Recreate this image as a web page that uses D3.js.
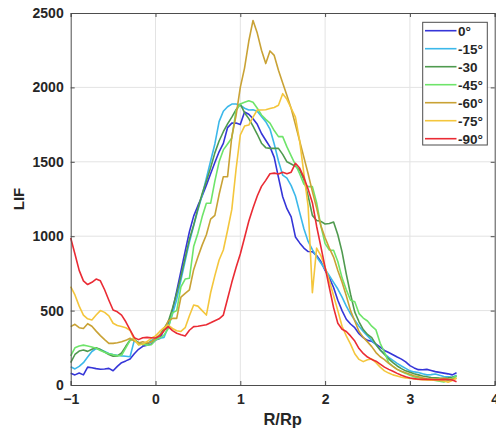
<!DOCTYPE html>
<html><head><meta charset="utf-8">
<script src="https://cdn.jsdelivr.net/npm/d3@7"></script>
<style>body{margin:0;background:#fff}svg{display:block}text{font-family:"Liberation Sans",Arial,sans-serif;font-weight:bold;fill:#262626}</style>
</head><body>
<svg id="c" width="496" height="434"></svg>
<script>
const rp = [-1.00,-0.95,-0.90,-0.85,-0.80,-0.75,-0.70,-0.65,-0.60,-0.55,-0.50,-0.45,-0.40,-0.35,-0.30,-0.25,-0.20,-0.15,-0.10,-0.05,
0.00,0.05,0.10,0.15,0.20,0.25,0.30,0.35,0.40,0.45,0.50,0.55,0.60,0.65,0.70,0.75,0.80,0.85,0.90,0.95,
1.00,1.05,1.10,1.15,1.20,1.25,1.30,1.35,1.40,1.45,1.50,1.55,1.60,1.65,1.70,1.75,1.80,1.85,1.90,1.95,
2.00,2.05,2.10,2.15,2.20,2.25,2.30,2.35,2.40,2.45,2.50,2.55,2.60,2.65,2.70,2.75,2.80,2.85,2.90,2.95,
3.00,3.05,3.10,3.15,3.20,3.25,3.30,3.35,3.40,3.45,3.50,3.55];

const deg0 = [79,68,80,68,120,116,110,106,108,112,96,125,150,162,175,210,240,260,268,275,
302,312,370,405,500,630,765,900,1030,1135,1205,1270,1343,1420,1495,1567,1624,1730,1760,1760,
1750,1835,1820,1790,1752,1690,1645,1600,1530,1395,1265,1185,1130,995,955,920,897,896,870,830,
770,720,655,570,500,442,410,385,345,318,300,294,275,255,232,218,203,188,174,155,
130,115,103,102,105,98,90,85,80,75,68,82];

const deg15 = [123,108,125,150,188,225,245,238,225,212,205,200,196,193,190,300,285,275,270,300,
314,314,320,390,475,575,705,835,960,1070,1175,1275,1390,1505,1620,1770,1840,1870,1888,1888,
1880,1860,1848,1850,1840,1805,1770,1720,1620,1505,1410,1390,1340,1270,1160,1050,965,910,862,820,
778,735,690,645,590,530,478,435,395,360,330,300,270,235,210,185,165,145,128,112,
95,88,84,75,68,70,74,65,57,55,52,66];

const deg30 = [150,205,228,235,226,240,250,238,222,205,193,195,215,260,302,307,285,270,278,290,
307,335,380,425,515,616,730,855,980,1075,1185,1285,1370,1460,1560,1640,1702,1755,1800,1850,
1888,1830,1790,1740,1685,1625,1595,1590,1590,1590,1550,1500,1485,1470,1445,1380,1270,1140,1106,1100,
1082,1085,1095,1010,895,745,610,490,425,372,340,318,272,235,205,175,150,128,110,95,
85,76,68,60,55,50,48,46,45,48,52,58];

const deg45 = [195,250,262,268,262,255,247,232,220,210,203,196,200,250,300,312,270,276,268,270,
302,315,335,380,485,500,660,712,717,930,1020,1130,1221,1221,1370,1500,1580,1620,1660,1845,
1888,1900,1910,1900,1860,1815,1785,1760,1710,1669,1669,1600,1540,1480,1420,1350,1333,1333,1225,1070,
950,907,905,830,720,640,570,560,480,450,430,395,370,280,220,150,125,105,90,78,
65,55,48,42,38,35,30,25,20,30,45,62];

const deg60 = [392,408,385,380,412,395,362,332,305,280,280,284,291,300,314,295,282,291,282,290,
314,338,365,430,448,448,590,616,640,775,860,940,1010,1115,1140,1280,1400,1400,1670,1810,
2000,2130,2310,2450,2365,2250,2160,2245,2215,2115,2030,1945,1858,1750,1640,1530,1420,1300,1190,1070,
990,920,860,770,690,600,500,430,360,320,290,258,218,190,170,145,125,105,92,82,
72,62,55,48,42,40,38,42,45,38,40,45];

const deg75 = [661,605,530,470,445,437,470,500,488,465,415,400,393,385,368,305,270,275,292,314,
330,360,385,403,380,365,360,385,465,538,530,500,470,620,735,840,907,1040,1180,1450,
1680,1740,1747,1800,1848,1848,1850,1858,1865,1880,1958,1920,1860,1800,1640,1420,1200,620,920,870,
790,700,600,500,395,330,275,210,172,157,170,175,150,120,95,80,68,60,52,48,
45,40,38,36,34,33,32,30,28,18,30,45];

const deg90 = [988,880,770,700,675,690,712,700,640,570,504,492,470,425,370,318,305,318,320,318,
316,330,365,392,365,348,338,330,368,392,395,400,405,418,432,445,470,580,690,790,
880,990,1100,1190,1270,1335,1375,1420,1424,1418,1430,1420,1430,1490,1458,1395,1315,1225,1067,930,
790,655,520,415,375,360,330,295,245,212,188,172,160,140,120,105,92,78,65,55,
47,43,39,38,38,37,35,36,38,36,34,22];

const seriesNames = ["0°","-15°","-30","-45°","-60°","-75°","-90°"];
const seriesColors = ["#3535d8","#3cb8ea","#4f9a4f","#6ee46a","#c9a235","#f4c63c","#ea2b34"];
const seriesData = [deg0,deg15,deg30,deg45,deg60,deg75,deg90];
const xTicks = [-1,0,1,2,3,4];
const yTicks = [0,500,1000,1500,2000,2500];

const svg = d3.select("#c");
const L=70.7, R=494.7, T=13, B=385;
const x = d3.scaleLinear().domain([-1,4]).range([L,R]);
const y = d3.scaleLinear().domain([0,2500]).range([B,T]);

// grid
const g = svg.append("g");
g.selectAll(".gx").data(xTicks.slice(1,-1)).join("line")
  .attr("x1",d=>x(d)).attr("x2",d=>x(d)).attr("y1",T).attr("y2",B)
  .attr("stroke","#e3e3e3").attr("stroke-width",1);
g.selectAll(".gy").data(yTicks.slice(1,-1)).join("line")
  .attr("x1",L).attr("x2",R).attr("y1",d=>y(d)).attr("y2",d=>y(d))
  .attr("stroke","#e3e3e3").attr("stroke-width",1);

// lines
const line = d3.line().x((d,i)=>x(rp[i])).y(d=>y(d));
svg.append("g").selectAll("path").data(seriesData).join("path")
  .attr("d",d=>line(d)).attr("fill","none")
  .attr("stroke",(d,i)=>seriesColors[i]).attr("stroke-width",1.6)
  .attr("stroke-linejoin","round");

// axes
const ax = svg.append("g").attr("transform",`translate(0,${B})`)
  .call(d3.axisBottom(x).tickValues(xTicks).tickSize(-4).tickPadding(9).tickFormat(d3.format("d")));
const ay = svg.append("g").attr("transform",`translate(${L},0)`)
  .call(d3.axisLeft(y).tickValues(yTicks).tickSize(-4).tickPadding(7).tickFormat(d3.format("d")));
const at = svg.append("g").attr("transform",`translate(0,${T})`)
  .call(d3.axisTop(x).tickValues(xTicks).tickSize(-4).tickFormat(""));
const ar = svg.append("g").attr("transform",`translate(${R},0)`)
  .call(d3.axisRight(y).tickValues(yTicks).tickSize(-4).tickFormat(""));
[ax,ay,at,ar].forEach(a=>{
  a.select(".domain").attr("stroke","#4d4d4d");
  a.selectAll(".tick line").attr("stroke","#4d4d4d");
  a.selectAll("text").attr("font-size",14).attr("fill","#262626");
});

svg.append("text").attr("x",(L+R)/2).attr("y",425).attr("text-anchor","middle")
  .attr("font-size",16.5).text("R/Rp");
svg.append("text").attr("transform","translate(24,199) rotate(-90)").attr("text-anchor","middle")
  .attr("font-size",15).text("LIF");

// legend
const lg = svg.append("g");
lg.append("rect").attr("x",422.7).attr("y",22.3).attr("width",64.6).attr("height",122.7)
  .attr("fill","#fff").attr("stroke","#4d4d4d").attr("stroke-width",1);
const rows = lg.selectAll(".row").data(seriesNames).join("g")
  .attr("transform",(d,i)=>`translate(0,${30.7+i*18})`);
rows.append("line").attr("x1",425).attr("x2",456.5).attr("y1",0).attr("y2",0)
  .attr("stroke",(d,i)=>seriesColors[i]).attr("stroke-width",1.6);
rows.append("text").attr("x",458).attr("y",5).attr("font-size",13.5).text(d=>d);
</script>
</body></html>
